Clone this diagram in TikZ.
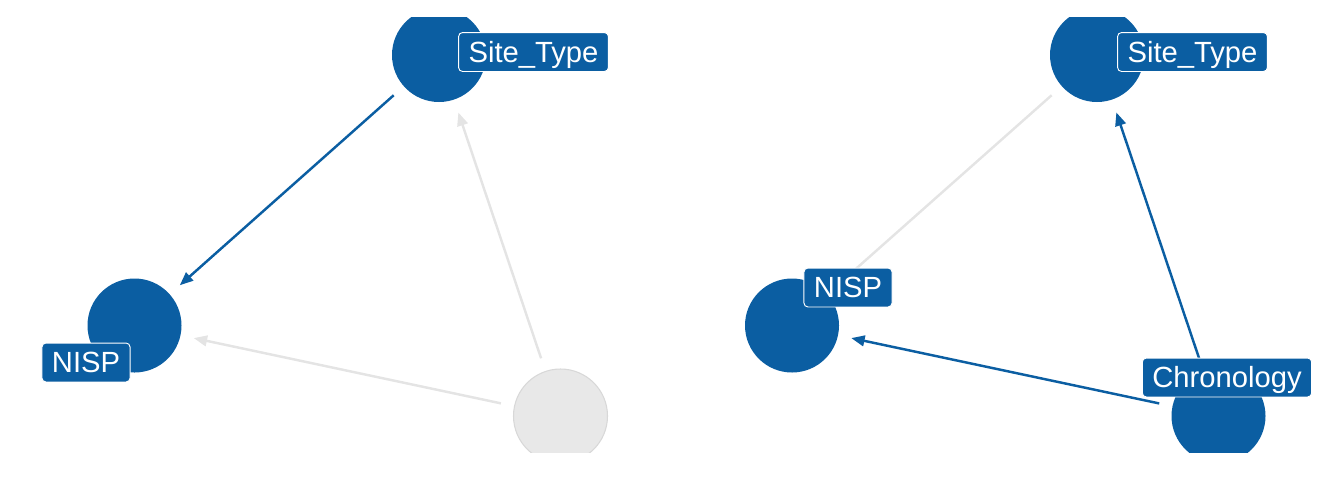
\documentclass[tikz,border=0pt]{standalone}
\usepackage{fontspec}
\setmainfont{Liberation Sans}
\usetikzlibrary{arrows.meta}
\definecolor{nodeblue}{RGB}{11,94,162}
\definecolor{edgegray}{RGB}{228,228,228}
\definecolor{nodegray}{RGB}{232,232,232}
\definecolor{bordergray}{RGB}{216,216,216}
\begin{document}
\begin{tikzpicture}[x=0.75pt,y=-0.75pt,
  vnode/.style={circle,minimum size=70.5pt,inner sep=0pt,fill=nodeblue},
  gnode/.style={circle,minimum size=70.5pt,inner sep=0pt,fill=nodegray,draw=bordergray,line width=0.8pt},
  lab/.style={fill=nodeblue,draw=white,line width=0.7pt,rounded corners=3pt,text=white,
    font=\fontsize{21.9}{25}\selectfont,text height=15.6pt,text depth=0pt,inner xsep=7.5pt,inner ysep=6.8pt},
  edge/.style={line width=1.85pt,shorten <=10pt,shorten >=10pt,-{Triangle[length=10pt,width=8pt]}},
  blueedge/.style={edge,draw=nodeblue},
  grayedge/.style={edge,draw=edgegray}
]
\useasboundingbox (0,0) rectangle (1344,480);
\begin{scope}
  \clip (0,17) rectangle (1344,452);
  \node[vnode] (s1) at (439,55) {};
  \node[vnode] (n1) at (134.5,325.5) {};
  \node[gnode] (c1) at (560.5,416) {};
  \node[vnode] (s2) at (1097,55) {};
  \node[vnode] (n2) at (792,325.5) {};
  \node[vnode] (c2) at (1218.5,416) {};
\end{scope}
\draw[grayedge] (c1) -- (s1);
\draw[grayedge] (c1) -- (n1);
\draw[blueedge] (s1) -- (n1);
\draw[grayedge] (s2) -- (n2);
\draw[blueedge] (c2) -- (s2);
\draw[blueedge] (c2) -- (n2);
\node[lab] (ls1) at (533.5,52) {Site\_Type};
\node[lab] (ln1) at (86,362.5) {NISP};
\node[lab] (ls2) at (1192.5,52) {Site\_Type};
\node[lab] (ln2) at (848,287.5) {NISP};
\node[lab] (lc2) at (1227,377.5) {Chronology};
\end{tikzpicture}
\end{document}
